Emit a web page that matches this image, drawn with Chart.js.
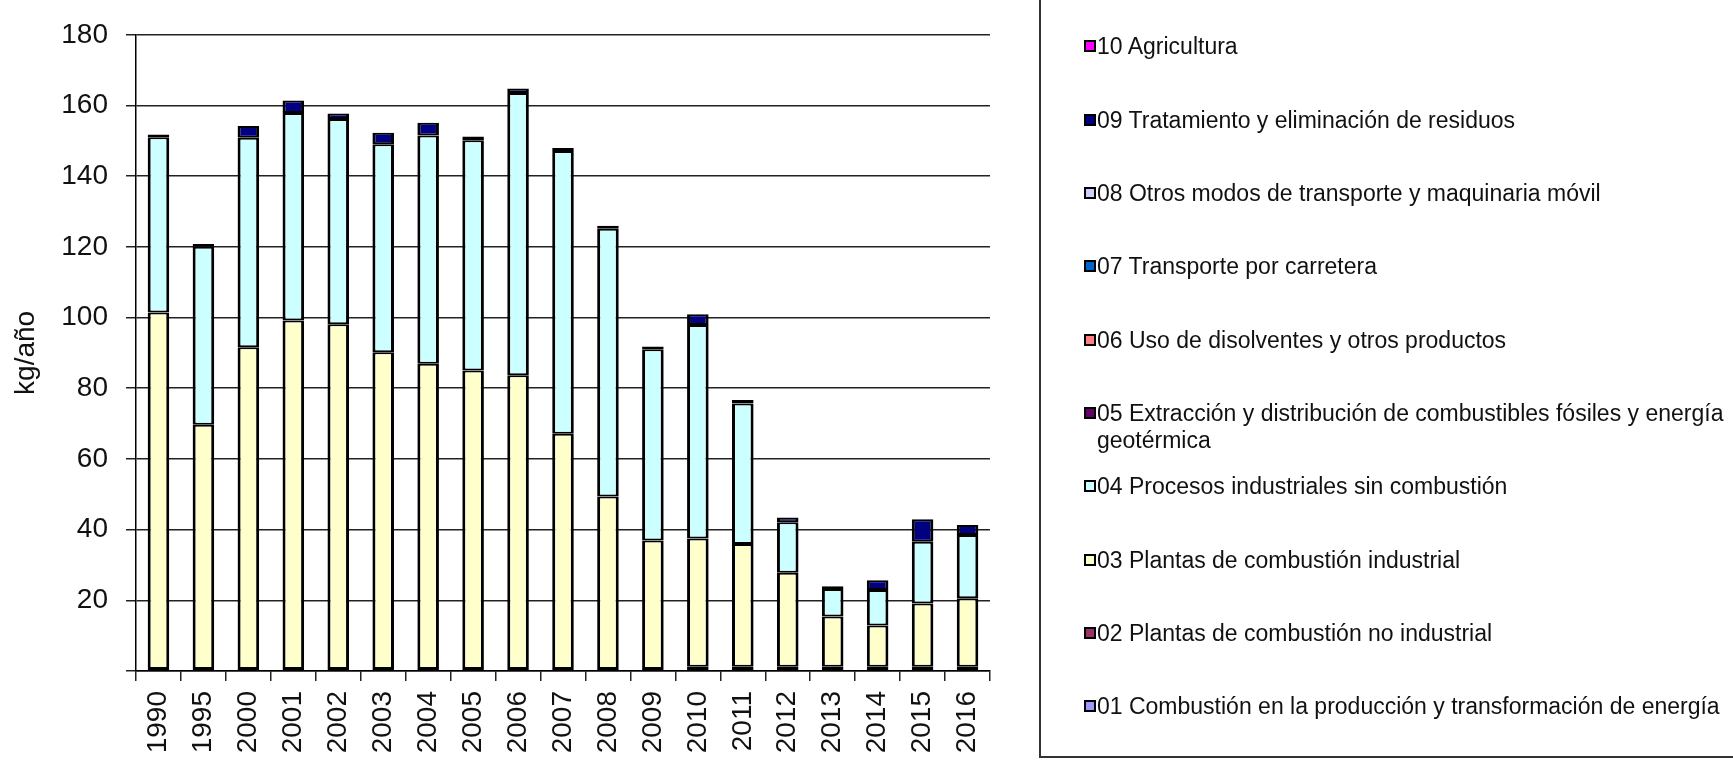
<!DOCTYPE html>
<html lang="es">
<head>
  <meta charset="UTF-8">
  <title>Emisiones kg/año</title>
  <style>
    html, body {
      margin: 0;
      padding: 0;
      background: #fff;
      overflow: hidden;
    }
    #wrap {
      position: relative;
      width: 1733px;
      height: 761px;
    }
    #legend-box {
      position: absolute;
      left: 1039px;
      top: -5px;
      width: 800px;
      height: 761px;
      border-left: 2px solid #333;
      border-bottom: 2px solid #333;
    }
    .item {
      position: absolute;
      left: 1084px;
      font-family: "Liberation Sans", Arial, sans-serif;
      font-size: 23px;
      line-height: 26.7px;
      color: #111;
    }
    .item .box {
      position: absolute;
      left: 0;
      top: 7px;
      width: 8px;
      height: 8px;
      border: 2px solid #000;
    }
    .item .txt {
      position: absolute;
      left: 13px;
      top: 0;
      width: 636px;
      white-space: normal;
    }
  </style>
</head>
<body>
  <div id="wrap">
    <canvas id="chart" width="1733" height="761"></canvas>
    <div id="legend-box"></div>
  </div>

  <script src="https://cdn.jsdelivr.net/npm/chart.js"></script>
  <script>
    const years = ['1990', '1995', '2000', '2001', '2002', '2003', '2004', '2005', '2006', '2007',
                   '2008', '2009', '2010', '2011', '2012', '2013', '2014', '2015', '2016'];

    const labels = [
      '01 Combustión en la producción y transformación de energía',
      '02 Plantas de combustión no industrial',
      '03 Plantas de combustión industrial',
      '04 Procesos industriales sin combustión',
      '05 Extracción y distribución de combustibles fósiles y energía geotérmica',
      '06 Uso de disolventes y otros productos',
      '07 Transporte por carretera',
      '08 Otros modos de transporte y maquinaria móvil',
      '09 Tratamiento y eliminación de residuos',
      '10 Agricultura'
    ];

    const colors = ['#9999FF', '#993366', '#FFFFCC', '#CCFFFF', '#660066',
                    '#FF8080', '#0066CC', '#CCCCFF', '#000080', '#FF00FF'];

    // kg/año por sector
    const s01 = [0, 0, 0, 0, 0, 0, 0, 0, 0, 0, 0, 0, 0, 0, 0, 0, 0, 0, 0];
    const s02 = [0.6, 0.6, 0.6, 0.6, 0.6, 0.6, 0.6, 0.6, 0.6, 0.6, 0.6, 0.6, 1.2, 1.2, 1.2, 1.2, 1.2, 1.2, 1.2];
    const s03 = [100.8, 69.1, 91.0, 98.6, 97.5, 89.6, 86.3, 84.4, 83.1, 66.5, 48.8, 36.3, 36.3, 34.7, 26.6, 14.2, 11.7, 17.9, 19.4];
    const s04 = [49.6, 50.3, 59.3, 58.7, 58.1, 58.8, 64.6, 65.2, 79.8, 80.0, 75.7, 54.1, 60.4, 39.8, 14.3, 7.8, 10.0, 17.5, 17.9];
    const s05 = [0, 0, 0, 0, 0, 0, 0, 0, 0, 0, 0, 0, 0, 0, 0, 0, 0, 0, 0];
    const s06 = [0, 0, 0, 0, 0, 0, 0, 0, 0, 0, 0, 0, 0, 0, 0, 0, 0, 0, 0];
    const s07 = [0, 0, 0, 0, 0, 0, 0, 0, 0, 0, 0, 0, 0, 0, 0, 0, 0, 0, 0];
    const s08 = [0, 0, 0, 0, 0, 0, 0, 0, 0, 0, 0, 0, 0, 0, 0, 0, 0, 0, 0];
    const s09 = [0.8, 0.8, 3.3, 3.5, 1.5, 3.3, 3.6, 1.0, 1.3, 0.9, 0.9, 0.8, 3.0, 1.0, 1.3, 0.8, 2.8, 6.3, 2.8];
    const s10 = [0, 0, 0, 0, 0, 0, 0, 0, 0, 0, 0, 0, 0, 0, 0, 0, 0, 0, 0];

    const yTicks = [0, 20, 40, 60, 80, 100, 120, 140, 160, 180];

    const series = [s01, s02, s03, s04, s05, s06, s07, s08, s09, s10];

    const datasets = series.map((data, i) => ({
      label: labels[i],
      data: data,
      backgroundColor: colors[i],
      borderColor: '#000',
      borderWidth: { top: 2, bottom: 2, left: 3, right: 3 },
      borderSkipped: false,
      inflateAmount: 0,
      categoryPercentage: 1,
      barPercentage: 0.48
    }));

    const font = 'Liberation Sans, Arial, sans-serif';

    new Chart(document.getElementById('chart'), {
      type: 'bar',
      data: { labels: years, datasets: datasets },
      options: {
        responsive: false,
        animation: false,
        layout: { padding: { top: 27, right: 743, bottom: 0, left: 0 } },
        plugins: {
          legend: { display: false },
          tooltip: { enabled: false }
        },
        scales: {
          x: {
            stacked: true,
            afterFit: s => { s.height = 90; },
            grid: {
              display: true,
              drawOnChartArea: false,
              drawTicks: true,
              tickLength: 10,
              color: '#222',
              lineWidth: 1.5,
              offset: true
            },
            border: { display: true, color: '#000', width: 1.5 },
            ticks: {
              autoSkip: false,
              minRotation: 90,
              maxRotation: 90,
              padding: 10,
              color: '#111',
              font: { family: font, size: 28 }
            }
          },
          y: {
            stacked: true,
            min: yTicks[0],
            max: yTicks[yTicks.length - 1],
            afterFit: s => { s.width = 136; },
            afterBuildTicks: s => { s.ticks = yTicks.map(v => ({ value: v })); },
            grid: {
              color: '#222',
              lineWidth: 1.5,
              drawTicks: true,
              tickLength: 10
            },
            border: { display: true, color: '#000', width: 1.5 },
            ticks: {
              padding: 18,
              color: '#111',
              font: { family: font, size: 28 },
              callback: v => (v === 0 ? '' : v)
            },
            title: {
              display: true,
              text: 'kg/año',
              color: '#111',
              font: { family: font, size: 28 },
              padding: { top: 9, bottom: 0 }
            }
          }
        }
      }
    });

    // leyenda en caja, orden inverso como en el original
    const wrap = document.getElementById('wrap');
    for (let k = 0; k < labels.length; k++) {
      const i = labels.length - 1 - k;
      const item = document.createElement('div');
      item.className = 'item';
      item.style.top = (46.7 + 73.3 * k - 13.3) + 'px';
      const box = document.createElement('span');
      box.className = 'box';
      box.style.background = colors[i];
      const txt = document.createElement('span');
      txt.className = 'txt';
      txt.textContent = labels[i];
      item.appendChild(box);
      item.appendChild(txt);
      wrap.appendChild(item);
    }
  </script>
</body>
</html>
